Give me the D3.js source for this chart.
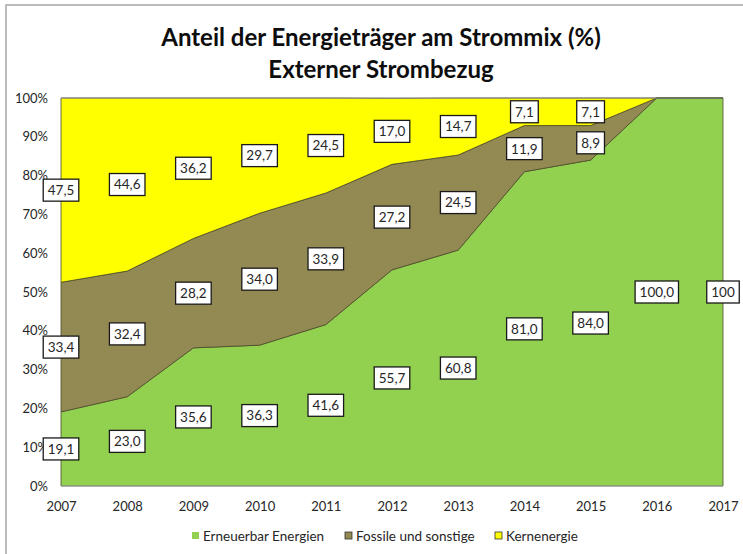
<!DOCTYPE html>
<html>
<head>
<meta charset="utf-8">
<script src="https://cdn.jsdelivr.net/npm/d3@7"></script>
<style>
  body { margin: 0; background: #fff; }
  svg text { font-family: Lato, "Open Sans", sans-serif; }
</style>
</head>
<body>
<svg id="chart" width="743" height="554"></svg>
<script>
// data
let years = [2007, 2008, 2009, 2010, 2011, 2012, 2013, 2014, 2015, 2016, 2017]
let erneuerbar = [19.1, 23.0, 35.6, 36.3, 41.6, 55.7, 60.8, 81.0, 84.0, 100.0, 100]
let fossile = [33.4, 32.4, 28.2, 34.0, 33.9, 27.2, 24.5, 11.9, 8.9, 0, 0]
let kern = [47.5, 44.6, 36.2, 29.7, 24.5, 17.0, 14.7, 7.1, 7.1, 0, 0]
let seriesNames = ['Erneuerbar Energien', 'Fossile und sonstige', 'Kernenergie']
let seriesColors = ['#92D050', '#938953', '#FFFF00']
let titleLines = ['Anteil der Energieträger am Strommix (%)', 'Externer Strombezug']

let svg = d3.select('#chart')

let plotLeft = 61, plotRight = 723, plotTop = 98, plotBottom = 486

// outer frame
svg.append('rect')
    .attr('x', 6).attr('y', 5)
    .attr('width', 760).attr('height', 600)
    .attr('fill', 'none')
    .attr('stroke', '#a6a6a6')
    .attr('stroke-width', 1.5)

let rows = years.map((y, i) => {
    return { year: y, e: erneuerbar[i], f: fossile[i], k: kern[i] }
})

let keys = ['e', 'f', 'k']
let stacked = d3.stack().keys(keys)(rows)

let xScale = d3.scaleLinear()
    .domain([years[0], years[years.length - 1]])
    .range([plotLeft, plotRight])

let yScale = d3.scaleLinear()
    .domain([0, 100])
    .range([plotBottom, plotTop])

let area = d3.area()
    .x((d) => xScale(d.data.year))
    .y0((d) => yScale(Math.min(d[0], 100)))
    .y1((d) => yScale(Math.min(d[1], 100)))

svg.selectAll('path.layer')
    .data(stacked)
    .enter()
    .append('path')
    .attr('class', 'layer')
    .attr('d', area)
    .attr('fill', (d, i) => seriesColors[i])
    .attr('stroke', '#4a4a2a')
    .attr('stroke-width', 0.8)
    .attr('stroke-linejoin', 'round')

// plot edges
svg.append('line')
    .attr('x1', plotLeft).attr('x2', plotRight)
    .attr('y1', yScale(100)).attr('y2', yScale(100))
    .attr('stroke', '#8c8c8c').attr('stroke-width', 1.2)
svg.append('line')
    .attr('x1', plotLeft).attr('x2', plotRight)
    .attr('y1', yScale(0)).attr('y2', yScale(0))
    .attr('stroke', '#a6a6a6').attr('stroke-width', 1.2)

// y axis
let yAxis = d3.axisLeft(yScale)
    .tickValues(d3.range(0, 101, 10))
    .tickFormat((d) => d + '%')
    .tickSize(0)
    .tickPadding(13)

let yG = svg.append('g')
    .attr('transform', 'translate(' + plotLeft + ',0)')
    .call(yAxis)
yG.select('.domain').remove()
yG.selectAll('text')
    .attr('font-size', '13px')
    .attr('fill', '#262626')

// x axis
let xAxis = d3.axisBottom(xScale)
    .tickValues(years)
    .tickFormat(d3.format('d'))
    .tickSize(0)
    .tickPadding(16)

let xG = svg.append('g')
    .attr('transform', 'translate(0,' + plotBottom + ')')
    .call(xAxis)
xG.select('.domain').remove()
xG.selectAll('text')
    .attr('font-size', '13px')
    .attr('fill', '#262626')

// value labels
let fmt = (v, year) => {
    if (year === 2017) return d3.format('d')(v)
    return d3.format('.1f')(v).replace('.', ',')
}

let labels = []
stacked.forEach((layer) => {
    layer.forEach((d) => {
        let v = d[1] - d[0]
        if (v > 0) {
            labels.push({
                year: d.data.year,
                text: fmt(d.data[layer.key], d.data.year),
                mid: (d[0] + Math.min(d[1], 100)) / 2
            })
        }
    })
})

let lab = svg.selectAll('g.lab')
    .data(labels)
    .enter()
    .append('g')
    .attr('class', 'lab')
    .attr('transform', (d) => 'translate(' + xScale(d.year) + ',' + yScale(d.mid) + ')')

lab.append('rect')
    .attr('fill', '#fff')
    .attr('stroke', '#1a1a1a')
    .attr('stroke-width', 1.3)

lab.append('text')
    .text((d) => d.text)
    .attr('text-anchor', 'middle')
    .attr('dy', '0.36em')
    .attr('font-size', '13.5px')
    .attr('fill', '#262626')

lab.each(function () {
    let g = d3.select(this)
    let w = g.select('text').node().getComputedTextLength()
    g.select('rect')
        .attr('x', -w / 2 - 4.5)
        .attr('y', -11)
        .attr('width', w + 9)
        .attr('height', 22)
})

// title
svg.selectAll('text.title')
    .data(titleLines)
    .enter()
    .append('text')
    .attr('class', 'title')
    .attr('x', 381)
    .attr('y', (d, i) => 46 + i * 32)
    .attr('text-anchor', 'middle')
    .attr('font-size', '24px')
    .attr('font-weight', 'bold')
    .attr('fill', '#0d0d0d')
    .text((d) => d)

// legend
let legendX = [192, 345, 495]
let leg = svg.selectAll('g.leg')
    .data(seriesNames)
    .enter()
    .append('g')
    .attr('class', 'leg')
    .attr('transform', (d, i) => 'translate(' + legendX[i] + ',536)')

leg.append('rect')
    .attr('x', 0).attr('y', -4)
    .attr('width', 7).attr('height', 7)
    .attr('fill', (d, i) => seriesColors[i])
    .attr('stroke', (d, i) => i === 0 ? 'none' : '#333')
    .attr('stroke-width', 0.8)

leg.append('text')
    .attr('x', 11)
    .attr('dy', '0.35em')
    .attr('font-size', '13.5px')
    .attr('fill', '#262626')
    .text((d) => d)
</script>
</body>
</html>
